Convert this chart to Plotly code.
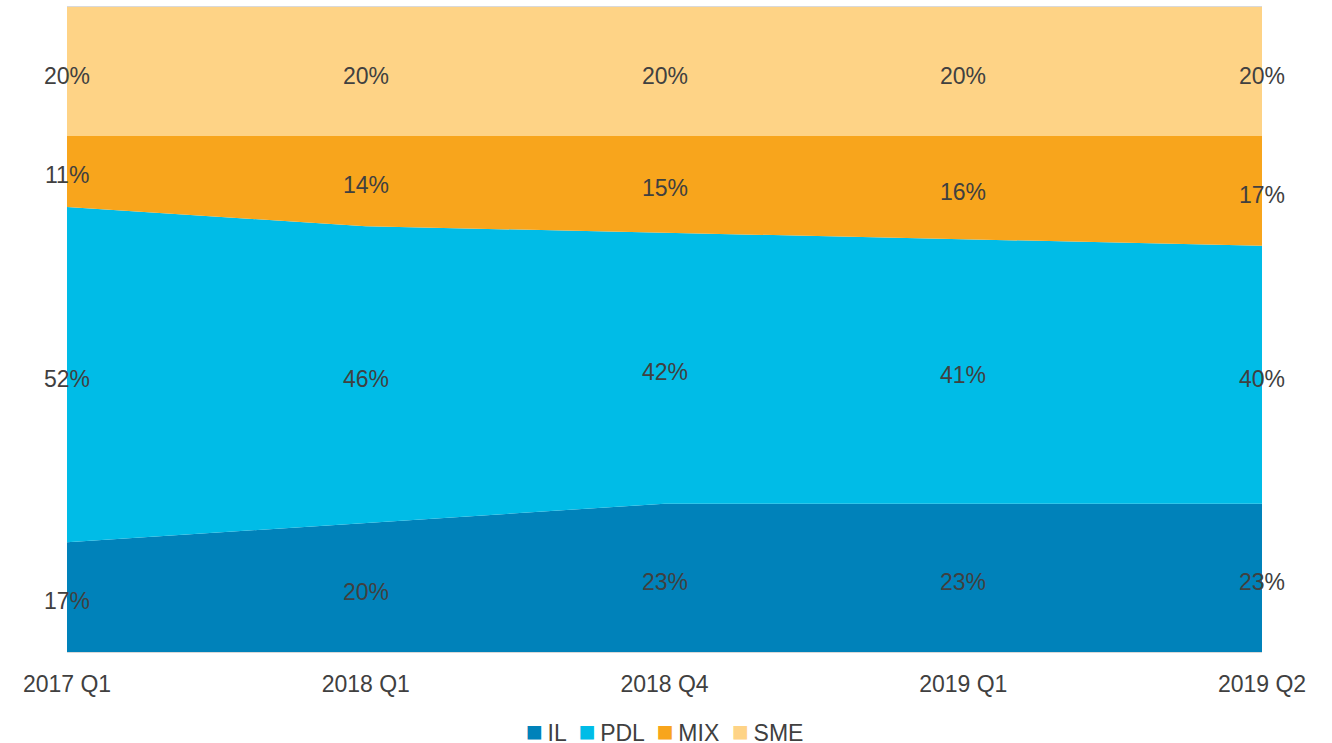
"""Portfolio mix as a 100% stacked area chart."""

import numpy as np
import plotly.graph_objects as go

quarters = ["2017 Q1", "2018 Q1", "2018 Q4", "2019 Q1", "2019 Q2"]
il = [17, 20, 23, 23, 23]
pdl = [52, 46, 42, 41, 40]
mix = [11, 14, 15, 16, 17]
sme = [20, 20, 20, 20, 20]

series = [
    ("IL", il, "#0082BA"),
    ("PDL", pdl, "#00BCE7"),
    ("MIX", mix, "#F8A51C"),
    ("SME", sme, "#FED386"),
]

FONT = "Liberation Sans, Arial, sans-serif"
TEXT_COLOR = "#404040"

fig = go.Figure()

# stacked areas
for name, values, color in series:
    fig.add_trace(
        go.Scatter(
            x=quarters,
            y=values,
            name=name,
            mode="lines",
            stackgroup="share",
            line={"width": 0, "color": color},
            fillcolor=color,
            showlegend=False,
            hoverinfo="skip",
        )
    )

# data labels at the middle of each band
base = np.zeros(len(quarters))
for name, values, color in series:
    vals = np.array(values, dtype=float)
    for quarter, mid, v in zip(quarters, base + vals / 2, vals):
        fig.add_annotation(
            x=quarter,
            y=mid,
            text=f"{v:.0f}%",
            showarrow=False,
            xanchor="center",
            yanchor="middle",
            yshift=-4,
            font={"family": FONT, "size": 23, "color": TEXT_COLOR},
        )
    base = base + vals

# legend drawn as one line of text with coloured squares
legend_text = "  ".join(
    f"<span style='color:{color};font-size:28px'>■</span>\u2009{name}"
    for name, _, color in series
)
fig.add_annotation(
    x=0.5,
    y=-0.123,
    xref="paper",
    yref="paper",
    xanchor="center",
    yanchor="middle",
    text=legend_text,
    showarrow=False,
    font={"family": FONT, "size": 23, "color": TEXT_COLOR},
)

fig.update_layout(
    width=1332,
    height=743,
    margin={"l": 67, "r": 70, "t": 7, "b": 91, "autoexpand": False},
    paper_bgcolor="white",
    plot_bgcolor="white",
    font={"family": FONT, "size": 23, "color": TEXT_COLOR},
    showlegend=False,
)
fig.update_xaxes(
    type="category",
    range=[0, len(quarters) - 1],
    showgrid=False,
    showline=True,
    linecolor="#D9D9D9",
    linewidth=1,
    mirror=True,
    ticks="",
    ticklabelstandoff=11,
    tickfont={"size": 23, "color": TEXT_COLOR},
)
fig.update_yaxes(
    range=[0, 100],
    showgrid=False,
    showticklabels=False,
    zeroline=False,
)

# drop the browser's default page margin so the figure fills the window
fig.write_html(
    "out.html",
    config={"displayModeBar": False},
    post_script="document.body.style.margin='0';document.body.style.overflow='hidden';",
)
